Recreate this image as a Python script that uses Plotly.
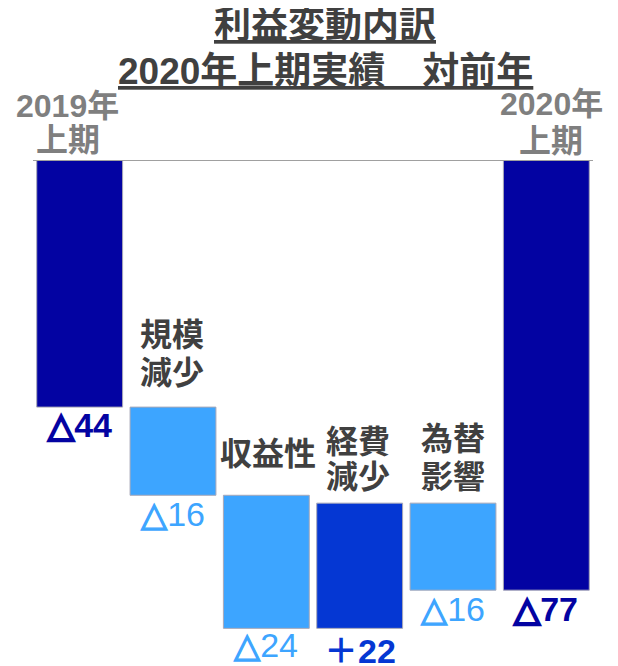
import plotly.graph_objects as go

# ---- data ----
categories = ["2019年\n上期", "規模\n減少", "収益性", "経費\n減少", "為替\n影響", "2020年\n上期"]
start_value = -44.0
changes = [-15.7, -23.7, 22.3, -15.5]
value_labels = ["△44", "△16", "△24", "＋22", "△16", "△77"]
title_lines = ["利益変動内訳", "2020年上期実績　対前年"]

# ---- waterfall geometry from data ----
bases = [0.0]
lengths = [start_value]
level = start_value
for c in changes:
    bases.append(level)
    lengths.append(c)
    level += c
bases.append(0.0)
lengths.append(level)
kinds = ["total"] + ["neg" if c < 0 else "pos" for c in changes] + ["total"]

# ---- styles ----
NAVY = "#0303A2"
LIGHT = "#3DA5FF"
MID = "#0537D3"
DARK = "#404040"
GRAY = "#7F7F7F"
FONT = "Liberation Sans, Noto Sans CJK JP, sans-serif"
VFONT = "Liberation Sans, DejaVu Sans, Noto Sans CJK JP, sans-serif"
color_of = {"total": NAVY, "neg": LIGHT, "pos": MID}

x = list(range(len(categories)))
fig = go.Figure()
fig.add_trace(go.Bar(
    x=x, y=lengths, base=bases,
    marker=dict(color=[color_of[k] for k in kinds],
                line=dict(color="#A8A8B8", width=1)),
    width=0.92,
    hoverinfo="skip",
))

annotations = []
# title
title_shift = [135, 89]
for line, ys in zip(title_lines, title_shift):
    annotations.append(dict(
        text=line, xref="paper", yref="paper", x=(325 - 33) / 560, y=1,
        xanchor="center", yanchor="middle", yshift=ys, showarrow=False,
        font=dict(family=FONT, size=37, color=DARK, weight="bold", lineposition="under"),
    ))

# category labels (pixel offsets above bar top, per line)
cat_offsets = [[54, 20], [72, 34], [41], [61, 26], [64, 26], [56, 19]]
cat_xshift = [-12, -1, 2, -2, 0, 5]
for i, (cat, kind) in enumerate(zip(categories, kinds)):
    top = max(bases[i], bases[i] + lengths[i])
    for line, off in zip(cat.split("\n"), cat_offsets[i]):
        annotations.append(dict(
            text=line, x=i, y=top, xref="x", yref="y",
            xanchor="center", yanchor="middle", yshift=off, xshift=cat_xshift[i],
            showarrow=False,
            font=dict(family=FONT, size=32,
                      color=GRAY if kind == "total" else DARK, weight="bold"),
        ))

# value labels below bar bottom
val_offsets = [18, 19, 17, 23, 19, 19]
for i, (lab, kind) in enumerate(zip(value_labels, kinds)):
    bottom = min(bases[i], bases[i] + lengths[i])
    col = color_of[kind]
    text = lab
    if lab.startswith("△"):
        sw = 1.3 if kind == "neg" else 2.4
        text = ('<span style="stroke:%s;stroke-width:%.1fpx">△</span>' % (col, sw)) + lab[1:]
    annotations.append(dict(
        text=text, x=i, y=bottom, xref="x", yref="y",
        xanchor="center", yanchor="middle", yshift=-val_offsets[i],
        showarrow=False,
        font=dict(family=VFONT, size=34, color=col,
                  weight="normal" if kind == "neg" else "bold"),
    ))

# page body has an 8px margin, so the figure is 8px smaller and margins are offset
fig.update_layout(
    width=610, height=658,
    margin=dict(l=25, r=25, t=152, b=0),
    paper_bgcolor="white", plot_bgcolor="white",
    showlegend=False,
    bargap=0.08,
    xaxis=dict(visible=False, range=[-0.5, 5.5]),
    yaxis=dict(visible=False, range=[-90.1, 0]),
    annotations=annotations,
    shapes=[dict(type="line", xref="paper", yref="y", x0=0, x1=1, y0=0, y1=0,
                 line=dict(color="#A0A0A0", width=2), layer="above")],
)

fig.write_html("out.html")
